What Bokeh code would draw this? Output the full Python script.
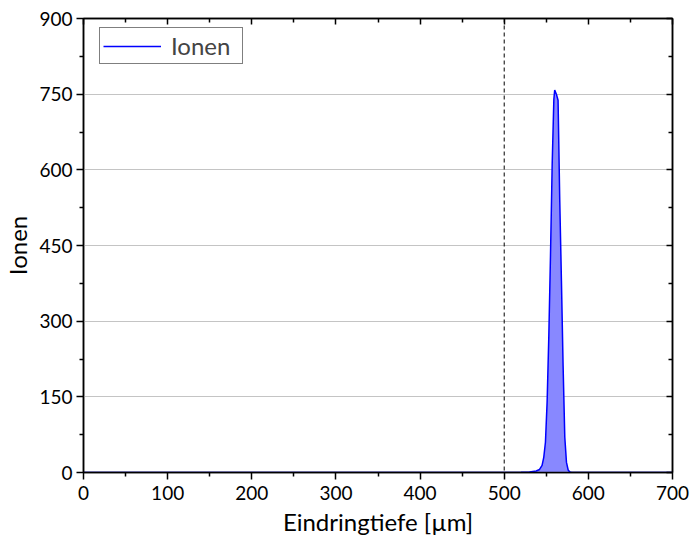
from bokeh.plotting import figure
from bokeh.models import LinearAxis, Span, FixedTicker, Range1d, ColumnDataSource, CustomJSTickFormatter
from bokeh.embed import file_html
from bokeh.resources import INLINE

# depth in µm and ion counts
depth = [0, 100, 200, 300, 400, 500, 520, 530, 538, 542, 545, 547, 549, 551, 553, 555, 557,
         559, 560, 562, 564, 566, 568, 570, 572, 574, 576, 578, 580, 600, 700]
ions = [0, 0, 0, 0, 0, 0, 0.5, 1, 3, 6, 14, 30, 60, 140, 270, 430, 610,
        740, 758, 750, 738, 540, 380, 210, 70, 20, 5, 1, 0, 0, 0]

x_ticks = [0, 100, 200, 300, 400, 500, 600, 700]
y_ticks = [0, 150, 300, 450, 600, 750, 900]
marker_depth = 500

FONT = "Lato"

src = ColumnDataSource(data=dict(x=depth, y=ions, y0=[0] * len(depth)))

p = figure(width=690, height=538, output_backend="svg", toolbar_location=None,
           x_range=Range1d(0, 700), y_range=Range1d(0, 900),
           min_border_left=83, min_border_right=18, min_border_top=18, min_border_bottom=66)

p.varea(x="x", y1="y0", y2="y", source=src, fill_color="#8888ff", fill_alpha=1.0)
p.line(x="x", y="y", source=src, line_color="#0000ff", line_width=1.5, legend_label="Ionen")

p.add_layout(Span(location=marker_depth, dimension="height", line_color="black",
                  line_dash="4 3", line_width=1))

p.outline_line_color = "black"
p.outline_line_width = 1.5

p.xgrid.visible = False
p.ygrid.ticker = FixedTicker(ticks=y_ticks)
p.ygrid.grid_line_color = "#c4c4c4"
p.ygrid.grid_line_width = 1

x_minor = [v + 50 for v in x_ticks[:-1]]
y_minor = [v + 75 for v in y_ticks[:-1]]

for ax, ticks, minor in ((p.xaxis[0], x_ticks, x_minor), (p.yaxis[0], y_ticks, y_minor)):
    ax.ticker = FixedTicker(ticks=ticks, minor_ticks=minor)
    ax.axis_line_width = 1.5
    ax.major_tick_line_width = 1.5
    ax.minor_tick_line_width = 1.5
    ax.major_tick_out = 7
    ax.major_tick_in = 0
    ax.minor_tick_out = 4
    ax.minor_tick_in = 0
    ax.major_label_text_font = FONT
    ax.major_label_text_font_size = "19px"
    ax.major_label_text_color = "black"
    ax.axis_label_text_font = FONT
    ax.axis_label_text_font_size = "24px"
    ax.axis_label_text_font_style = "normal"
    ax.axis_label_text_color = "black"

p.xaxis[0].axis_label = "Eindringtiefe [µm]"
p.xaxis[0].axis_label_standoff = 4
p.xaxis[0].major_label_standoff = 6
p.yaxis[0].axis_label = "Ionen"
p.yaxis[0].axis_label_standoff = 4
p.yaxis[0].major_label_standoff = 4

blank = CustomJSTickFormatter(code="return '';")
top = LinearAxis(ticker=FixedTicker(ticks=x_ticks, minor_ticks=x_minor), formatter=blank)
right = LinearAxis(ticker=FixedTicker(ticks=y_ticks, minor_ticks=y_minor), formatter=blank)
for ax in (top, right):
    ax.axis_line_width = 1.5
    ax.major_tick_in = 6
    ax.major_tick_out = 0
    ax.minor_tick_in = 4
    ax.minor_tick_out = 0
    ax.major_tick_line_width = 1.5
    ax.minor_tick_line_width = 1.5
    ax.major_label_standoff = 0
    ax.major_label_text_font_size = "8px"
p.add_layout(top, "above")
p.add_layout(right, "right")

leg = p.legend[0]
leg.location = (16, 408)
leg.border_line_color = "black"
leg.border_line_width = 1
leg.label_text_font = FONT
leg.label_text_font_size = "24px"
leg.glyph_width = 58
leg.glyph_height = 22
leg.label_standoff = 10
leg.label_width = 68
leg.padding = 3
leg.margin = 0
leg.spacing = 0
leg.label_height = 22
leg.background_fill_alpha = 1.0

open("out.html", "w").write(file_html(p, INLINE))
